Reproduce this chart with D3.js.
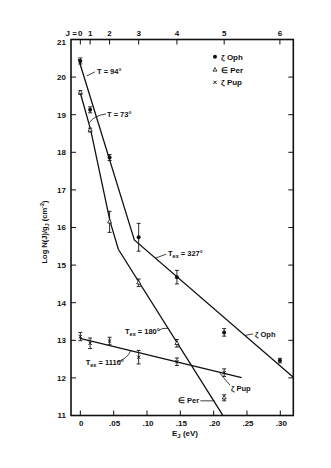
<!DOCTYPE html>
<html>
<head>
<meta charset="utf-8">
<script src="https://cdn.jsdelivr.net/npm/d3@7"></script>
<style>
  body { margin: 0; background: #fff; }
  text { font-family: "Liberation Sans", Arial, sans-serif; font-weight: bold; fill: #111; }
</style>
</head>
<body>
<div id="chart"></div>
<script>
const width = 331;
const height = 468;

// rotational levels (J) and their energies in eV
const levels = [0, 1, 2, 3, 4, 5, 6];
const energies = [0, 0.0147, 0.0439, 0.0875, 0.1449, 0.2158, 0.2994];

// log N(J)/gJ and error half-widths
const ophValues = [20.43, 19.13, 17.86, 15.74, 14.68, 13.21, 12.46];
const ophErrors = [0.08, 0.08, 0.08, 0.37, 0.18, 0.10, 0.06];
const perValues = [19.59, 18.59, 16.15, 14.53, 12.92, 11.47];
const perErrors = [0.05, 0.05, 0.28, 0.10, 0.10, 0.08];
const pupValues = [13.10, 12.92, 12.98, 12.55, 12.43, 12.14];
const pupErrors = [0.11, 0.14, 0.10, 0.18, 0.10, 0.10];

// fitted lines, vertices as [E, logN]
const ophFit = [[-0.0027, 20.48], [0.081, 15.67], [0.3195, 12.02]];
const perFit = [[-0.0005, 19.61], [0.0156, 18.59], [0.0445, 16.17], [0.057, 15.42], [0.2136, 11.01]];
const pupFit = [[-0.0005, 13.05], [0.242, 12.01]];

const xTicks = [0, 0.05, 0.10, 0.15, 0.20, 0.25, 0.30];
const xTickLabels = ["0", ".05", ".10", ".15", ".20", ".25", ".30"];
const yTicks = [11, 12, 13, 14, 15, 16, 17, 18, 19, 20, 21];

// annotations: text, anchor [E, logN], leader from/to
const notes = [
  { main: "T = 94°", sub: null, tail: "", at: [0.025, 20.08], from: [0.022, 20.14], to: [0.0096, 20.03], bend: 0 },
  { main: "T = 73°", sub: null, tail: "", at: [0.040, 18.95], from: [0.0385, 19.02], to: [0.0135, 18.79], bend: -3 },
  { main: "T", sub: "ex", tail: " = 327°", at: [0.1315, 15.24], from: [0.1285, 15.29], to: [0.112, 15.18], bend: 0 },
  { main: "T", sub: "ex", tail: " = 180°", at: [0.067, 13.17], from: [0.117, 13.25], to: [0.1315, 13.32], bend: -2 },
  { main: "T", sub: "ex", tail: " = 1110°", at: [0.0081, 12.34], from: [0.0545, 12.42], to: [0.0756, 12.72], bend: 3 },
  { main: "ζ Oph", sub: null, tail: "", at: [0.262, 13.09], from: [0.259, 13.17], to: [0.247, 13.13], bend: 0 },
  { main: "ζ Pup", sub: null, tail: "", at: [0.226, 11.66], from: [0.2245, 11.81], to: [0.2095, 12.13], bend: -3 },
  { main: "∈ Per", sub: null, tail: "", at: [0.1465, 11.32], from: [0.180, 11.39], to: [0.2013, 11.39], bend: 0 }
];

const legendNames = ["ζ Oph", "∈ Per", "ζ Pup"];
const legendRows = [20.54, 20.19, 19.86];

const x = d3.scaleLinear().domain([-0.014, 0.3195]).range([71, 293.3]);
const y = d3.scaleLinear().domain([11, 21]).range([415.5, 39.5]);

const svg = d3.select("#chart").append("svg")
  .attr("width", width)
  .attr("height", height);

// frame
svg.append("rect")
  .attr("x", x.range()[0]).attr("y", y(21))
  .attr("width", x.range()[1] - x.range()[0])
  .attr("height", y(11) - y(21))
  .attr("fill", "none").attr("stroke", "#111").attr("stroke-width", 1.6);

// left / right ticks
yTicks.forEach(v => {
  svg.append("line").attr("x1", x.range()[0]).attr("x2", x.range()[0] + 5)
    .attr("y1", y(v)).attr("y2", y(v)).attr("stroke", "#111").attr("stroke-width", 1);
  svg.append("line").attr("x1", x.range()[1]).attr("x2", x.range()[1] - 5)
    .attr("y1", y(v)).attr("y2", y(v)).attr("stroke", "#111").attr("stroke-width", 1);
});
svg.append("g").selectAll("text")
  .data(yTicks)
  .join("text")
  .attr("x", 66)
  .attr("y", d => d === 21 ? y(d) + 3 : y(d))
  .attr("dy", "0.35em")
  .attr("text-anchor", "end")
  .attr("font-size", "8px")
  .text(d => d);

// bottom ticks
svg.append("g").selectAll("line")
  .data(xTicks)
  .join("line")
  .attr("x1", d => x(d)).attr("x2", d => x(d))
  .attr("y1", y(11)).attr("y2", y(11) - 5)
  .attr("stroke", "#111").attr("stroke-width", 1);
svg.append("g").selectAll("text")
  .data(xTicks)
  .join("text")
  .attr("x", d => x(d) + 1)
  .attr("y", 425.5)
  .attr("text-anchor", "middle")
  .attr("font-size", "8px")
  .text((d, i) => xTickLabels[i]);

// top J ticks
svg.append("g").selectAll("line")
  .data(energies)
  .join("line")
  .attr("x1", d => x(d)).attr("x2", d => x(d))
  .attr("y1", y(21)).attr("y2", y(21) + 5)
  .attr("stroke", "#111").attr("stroke-width", 1);
svg.append("g").selectAll("text")
  .data(levels)
  .join("text")
  .attr("x", (d, i) => x(energies[i]))
  .attr("y", 36)
  .attr("text-anchor", "middle")
  .attr("font-size", "8px")
  .text(d => d);
svg.append("text")
  .attr("x", x(0) - 3.5).attr("y", 36)
  .attr("text-anchor", "end")
  .attr("font-size", "8px")
  .text("J =");

// axis titles
const xTitle = svg.append("text")
  .attr("x", 185).attr("y", 436)
  .attr("text-anchor", "middle")
  .attr("font-size", "8px");
xTitle.append("tspan").text("E");
xTitle.append("tspan").attr("dy", 2).attr("font-size", "6px").text("J");
xTitle.append("tspan").attr("dy", -2).text(" (eV)");

const yTitle = svg.append("text")
  .attr("transform", "translate(47,232) rotate(-90)")
  .attr("text-anchor", "middle")
  .attr("font-size", "7.5px");
yTitle.append("tspan").text("Log N(J)/g");
yTitle.append("tspan").attr("dy", 2).attr("font-size", "5.5px").text("J");
yTitle.append("tspan").attr("dy", -2).text(" (cm");
yTitle.append("tspan").attr("dy", -3).attr("font-size", "5.5px").text("-2");
yTitle.append("tspan").attr("dy", 3).text(")");

// fit lines
const line = d3.line().x(d => x(d[0])).y(d => y(d[1]));
[ophFit, perFit, pupFit].forEach(pts => {
  svg.append("path")
    .attr("d", line(pts))
    .attr("fill", "none")
    .attr("stroke", "#111")
    .attr("stroke-width", 1.3);
});

// error bars + markers
function drawSeries(values, errors, shape) {
  const g = svg.append("g");
  values.forEach((v, i) => {
    const cx = x(energies[i]);
    const e = errors[i];
    g.append("line").attr("x1", cx).attr("x2", cx)
      .attr("y1", y(v + e)).attr("y2", y(v - e))
      .attr("stroke", "#111").attr("stroke-width", 0.9);
    [v + e, v - e].forEach(t => {
      g.append("line").attr("x1", cx - 2).attr("x2", cx + 2)
        .attr("y1", y(t)).attr("y2", y(t))
        .attr("stroke", "#111").attr("stroke-width", 0.9);
    });
    drawMarker(g, cx, y(v), shape);
  });
}

function drawMarker(g, cx, cy, shape) {
  if (shape === "circle") {
    g.append("circle").attr("cx", cx).attr("cy", cy).attr("r", 2).attr("fill", "#111");
  } else if (shape === "triangle") {
    g.append("path")
      .attr("d", d3.symbol(d3.symbolTriangle, 7)())
      .attr("transform", `translate(${cx},${cy})`)
      .attr("fill", "#fff").attr("stroke", "#111").attr("stroke-width", 0.8);
  } else {
    g.append("path")
      .attr("d", d3.symbol(d3.symbolX, 8)())
      .attr("transform", `translate(${cx},${cy})`)
      .attr("fill", "none").attr("stroke", "#111").attr("stroke-width", 1);
  }
}

drawSeries(ophValues, ophErrors, "circle");
drawSeries(perValues, perErrors, "triangle");
drawSeries(pupValues, pupErrors, "x");

// annotations
notes.forEach(n => {
  const t = svg.append("text")
    .attr("x", x(n.at[0])).attr("y", y(n.at[1]))
    .attr("font-size", "7.5px");
  t.append("tspan").text(n.main);
  if (n.sub) {
    t.append("tspan").attr("dy", 2).attr("font-size", "5.5px").text(n.sub);
    t.append("tspan").attr("dy", -2).text(n.tail);
  }
  const x1 = x(n.from[0]), y1 = y(n.from[1]);
  const x2 = x(n.to[0]), y2 = y(n.to[1]);
  const mx = (x1 + x2) / 2 + n.bend, my = (y1 + y2) / 2 + n.bend;
  svg.append("path")
    .attr("d", `M${x1},${y1} Q${mx},${my} ${x2},${y2}`)
    .attr("fill", "none")
    .attr("stroke", "#111")
    .attr("stroke-width", 0.8);
});

// legend
const shapes = ["circle", "triangle", "x"];
legendNames.forEach((name, i) => {
  const lg = svg.append("g");
  drawMarker(lg, x(0.202), y(legendRows[i]), shapes[i]);
  lg.append("text")
    .attr("x", x(0.211)).attr("y", y(legendRows[i]))
    .attr("dy", "0.35em")
    .attr("font-size", "8px")
    .text(name);
});
</script>
</body>
</html>
